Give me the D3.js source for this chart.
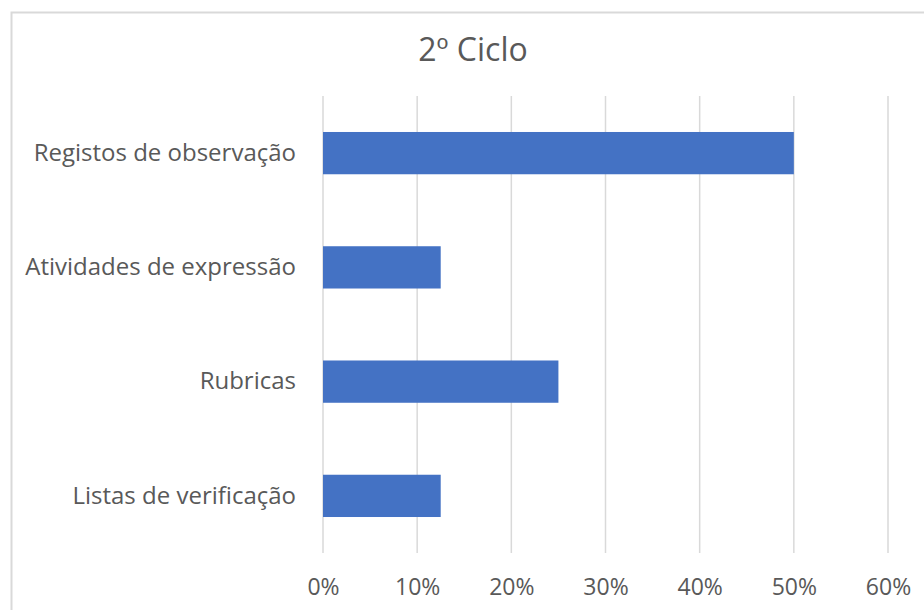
<!DOCTYPE html>
<html>
<head>
<meta charset="utf-8">
<script src="https://cdn.jsdelivr.net/npm/d3@7"></script>
<style>
  body { margin: 0; background: #fff; }
  svg { display: block; }
</style>
</head>
<body>
<svg id="chart"></svg>
<script>
const title = "2º Ciclo"
const categories = [
  "Registos de observação",
  "Atividades de expressão",
  "Rubricas",
  "Listas de verificação",
]
const values = [0.5, 0.125, 0.25, 0.125]
const ticks = [0, 0.1, 0.2, 0.3, 0.4, 0.5, 0.6]

const width = 924
const height = 610
const margin = { top: 96, right: 36, bottom: 57, left: 323 }
const innerHeight = height - margin.top - margin.bottom
const font = "'Open Sans', 'Liberation Sans', sans-serif"

const svg = d3
  .select("#chart")
  .attr("width", width)
  .attr("height", height)

// chart frame: only the top and left edges are inside the picture
svg
  .append("path")
  .attr("d", `M11.5,${height} V12.5 H${width}`)
  .attr("fill", "none")
  .attr("stroke", "#d9d9d9")
  .attr("stroke-width", 2)

svg
  .append("text")
  .attr("x", 473)
  .attr("y", 61)
  .attr("text-anchor", "middle")
  .attr("font-family", font)
  .attr("font-size", 32)
  .attr("fill", "#595959")
  .text(title)

const g = svg
  .append("g")
  .attr("transform", `translate(${margin.left},${margin.top})`)

const x = d3.scaleLinear().domain([0, 0.6]).range([0, 565])
const y = d3
  .scaleBand()
  .domain(categories)
  .range([0, innerHeight])
  .paddingInner(0.63)
  .paddingOuter(0.315)

g.append("g")
  .selectAll("line")
  .data(ticks)
  .enter()
  .append("line")
  .attr("x1", (d) => x(d))
  .attr("x2", (d) => x(d))
  .attr("y1", 0)
  .attr("y2", innerHeight)
  .attr("stroke", "#d9d9d9")
  .attr("stroke-width", 1.5)

g.selectAll(".bar")
  .data(values)
  .enter()
  .append("rect")
  .attr("class", "bar")
  .attr("x", x(0))
  .attr("y", (d, i) => y(categories[i]))
  .attr("width", (d) => x(d) - x(0))
  .attr("height", y.bandwidth())
  .attr("fill", "#4472c4")

const xAxis = g
  .append("g")
  .attr("transform", `translate(0,${innerHeight})`)
  .call(
    d3
      .axisBottom(x)
      .tickValues(ticks)
      .tickFormat(d3.format(".0%"))
      .tickSize(0)
      .tickPadding(26),
  )
xAxis.select(".domain").remove()
xAxis
  .selectAll("text")
  .attr("font-family", font)
  .attr("font-size", 23)
  .attr("fill", "#595959")

const yAxis = g
  .append("g")
  .call(d3.axisLeft(y).tickSize(0).tickPadding(27))
yAxis.select(".domain").remove()
yAxis
  .selectAll("text")
  .attr("font-family", font)
  .attr("font-size", 24)
  .attr("fill", "#595959")
</script>
</body>
</html>
